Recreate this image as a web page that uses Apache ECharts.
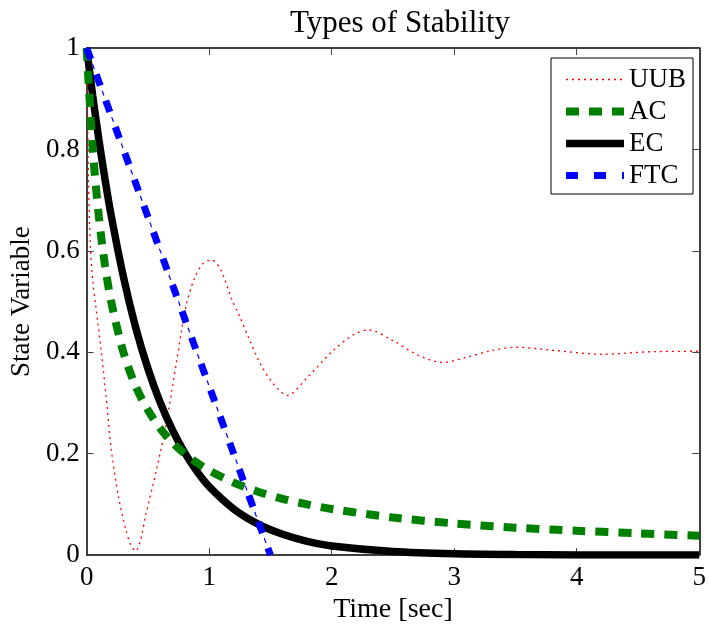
<!DOCTYPE html>
<html>
<head>
<meta charset="utf-8">
<script src="https://cdn.jsdelivr.net/npm/echarts@6/dist/echarts.min.js"></script>
<style>html,body{margin:0;padding:0;background:#fff}#c{width:709px;height:629px}</style>
</head>
<body>
<div id="c"></div>
<script>
// ---- data ----
var xTicks = [0, 1, 2, 3, 4, 5];
var yTicks = [0, 0.2, 0.4, 0.6, 0.8, 1];

var uubT = [0, 0.008, 0.015, 0.03, 0.05, 0.075, 0.12, 0.16, 0.2, 0.26, 0.32, 0.36, 0.4, 0.44, 0.485, 0.57, 0.65, 0.73, 0.81, 0.88, 0.95, 1.02, 1.1, 1.18, 1.25, 1.32, 1.42, 1.53, 1.64, 1.8, 2.01, 2.18, 2.3, 2.5, 2.7, 2.9, 3.1, 3.3, 3.5, 3.8, 4.2, 4.6, 5];
var uubV = [1, 0.85, 0.74, 0.61, 0.54, 0.49, 0.40, 0.31, 0.21, 0.115, 0.05, 0.02, 0.008, 0.03, 0.082, 0.168, 0.26, 0.376, 0.49, 0.546, 0.575, 0.582, 0.56, 0.507, 0.47, 0.43, 0.376, 0.336, 0.315, 0.35, 0.403, 0.435, 0.444, 0.423, 0.395, 0.38, 0.39, 0.403, 0.41, 0.404, 0.396, 0.401, 0.402];

var ecT = [0, 0.05, 0.1, 0.15, 0.2, 0.3, 0.4, 0.5, 0.6, 0.7, 0.8, 0.9, 1.0, 1.2, 1.4, 1.6, 1.8, 2.0, 2.5, 3.0, 3.5, 4.0, 4.5, 5.0];
var ecV = [1, 0.905, 0.819, 0.741, 0.67, 0.549, 0.449, 0.368, 0.301, 0.247, 0.202, 0.165, 0.135, 0.091, 0.061, 0.041, 0.027, 0.018, 0.007, 0.0025, 0.001, 0.0003, 0.0001, 0.00005];

var acT = [0, 0.05, 0.1, 0.15, 0.2, 0.3, 0.4, 0.5, 0.6, 0.7, 0.8, 0.9, 1.0, 1.2, 1.4, 1.6, 1.8, 2.0, 2.5, 3.0, 3.5, 4.0, 4.5, 5.0];
var acV = [1, 0.8, 0.667, 0.571, 0.5, 0.4, 0.333, 0.286, 0.25, 0.222, 0.2, 0.182, 0.167, 0.143, 0.125, 0.111, 0.1, 0.091, 0.074, 0.0625, 0.054, 0.048, 0.043, 0.038];

var ftcT = [0, 0.5, 1.0, 1.5];
var ftcV = [1, 0.667, 0.333, 0];

function pairs(t, v) { return t.map(function (x, i) { return [x, v[i]]; }); }

var FONT = 'Liberation Serif';
var chart = echarts.init(document.getElementById('c'), null, { renderer: 'canvas' });

function axisCommon(extra) {
  var base = {
    type: 'value',
    axisLine: { show: true, onZero: false, lineStyle: { color: '#000', width: 1.5 } },
    axisTick: { show: true, inside: true, length: 7, lineStyle: { color: '#444', width: 1 } },
    splitLine: { show: false },
    axisLabel: { color: '#000', fontFamily: FONT, fontSize: 27 }
  };
  for (var k in extra) base[k] = extra[k];
  return base;
}

var UUB_STYLE = { color: '#ff0000', width: 1.3, type: [2, 4] };
var AC_STYLE = { color: '#008000', width: 8, type: [13, 10], cap: 'butt' };
var EC_STYLE = { color: '#000000', width: 7.5 };
var FTC_STYLE = { color: '#0000ff', width: 7, type: [12, 16], cap: 'butt' };

chart.setOption({
  animation: false,
  backgroundColor: '#fff',
  title: {
    text: 'Types of Stability',
    left: 395, top: 3, textAlign: 'center',
    textStyle: { fontFamily: FONT, fontSize: 31, fontWeight: 'normal', color: '#000' }
  },
  grid: { left: 84, right: 7, top: 48, bottom: 70 },
  legend: {
    data: [
      { name: 'UUB', lineStyle: { width: 1.3 } },
      { name: 'AC', lineStyle: { width: 8 } },
      { name: 'EC', lineStyle: { width: 7.5 } },
      { name: 'FTC', lineStyle: { width: 7 } }
    ],
    orient: 'vertical',
    left: 551, top: 58,
    padding: [8, 7, 5, 11],
    itemWidth: 58, itemHeight: 20, itemGap: 5,
    itemStyle: { opacity: 0 },
    borderColor: '#000', borderWidth: 1, backgroundColor: '#fff',
    textStyle: { fontFamily: FONT, fontSize: 27, color: '#000' }
  },
  xAxis: [
    axisCommon({
      min: 0, max: 5, interval: 1,
      name: 'Time [sec]', nameLocation: 'middle', nameGap: 33,
      nameTextStyle: { fontFamily: FONT, fontSize: 28, color: '#000' },
      axisLabel: { color: '#000', fontFamily: FONT, fontSize: 27, margin: 9 }
    }),
    axisCommon({ min: 0, max: 5, interval: 1, position: 'top', axisLabel: { show: false } })
  ],
  yAxis: [
    axisCommon({
      min: 0, max: 1, interval: 0.2,
      name: 'State Variable', nameLocation: 'middle', nameGap: 41,
      nameTextStyle: { fontFamily: FONT, fontSize: 27, color: '#000' },
      axisLabel: { color: '#000', fontFamily: FONT, fontSize: 27, margin: 7 }
    }),
    axisCommon({ min: 0, max: 1, interval: 0.2, position: 'right', axisLabel: { show: false } })
  ],
  series: [
    {
      name: 'UUB', type: 'line', data: pairs(uubT, uubV), smooth: 0.3, showSymbol: false, symbol: 'none', z: 2,
      lineStyle: UUB_STYLE, itemStyle: { color: '#ff0000' }
    },
    {
      name: 'AC', type: 'line', data: pairs(acT, acV), smooth: 0.3, showSymbol: false, symbol: 'none', z: 4,
      lineStyle: AC_STYLE, itemStyle: { color: '#008000' }
    },
    {
      name: 'EC', type: 'line', data: pairs(ecT, ecV), smooth: 0.3, showSymbol: false, symbol: 'none', z: 3,
      lineStyle: EC_STYLE, itemStyle: { color: '#000' }
    },
    {
      name: 'FTC', type: 'line', data: pairs(ftcT, ftcV), showSymbol: false, symbol: 'none', z: 5,
      lineStyle: FTC_STYLE, itemStyle: { color: '#0000ff' }
    },
    {
      name: 'FTCdot', type: 'line', data: pairs(ftcT, ftcV), showSymbol: false, symbol: 'none', z: 5,
      lineStyle: { color: '#0000ff', width: 1.2, type: [5, 23], dashOffset: 10.5 }, itemStyle: { color: '#0000ff' }
    }
  ]
});
</script>
</body>
</html>
